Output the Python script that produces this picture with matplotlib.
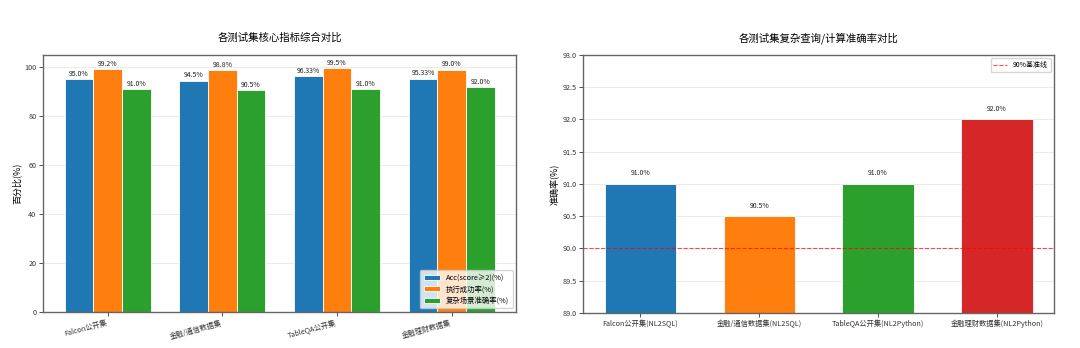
import matplotlib

matplotlib.use("Agg")
import matplotlib.pyplot as plt
import numpy as np

plt.rcParams["font.family"] = ["Noto Sans CJK SC", "DejaVu Sans"]
plt.rcParams["axes.unicode_minus"] = False

# core metrics per test set
datasets = ["Falcon公开集", "金融/通信数据集", "TableQA公开集", "金融理财数据集"]
metric_names = ["Acc(score≥2)(%)", "执行成功率(%)", "复杂场景准确率(%)"]
acc = [95.0, 94.5, 96.33, 95.33]
exec_rate = [99.2, 98.8, 99.5, 99.0]
complex_acc = [91.0, 90.5, 91.0, 92.0]

# complex query / computation accuracy
complex_labels = [
    "Falcon公开集(NL2SQL)",
    "金融/通信数据集(NL2SQL)",
    "TableQA公开集(NL2Python)",
    "金融理财数据集(NL2Python)",
]
complex_values = [91.0, 90.5, 91.0, 92.0]
baseline = 90.0

colors = ["#1f77b4", "#ff7f0e", "#2ca02c", "#d62728"]


def style_axes(ax):
    for spine in ax.spines.values():
        spine.set_color("#666666")
        spine.set_linewidth(1.0)
    ax.tick_params(labelsize=5.2, length=3, width=0.6, colors="#333333", pad=2)
    ax.grid(axis="y", alpha=0.3, linewidth=0.6)
    ax.set_axisbelow(True)


fig = plt.figure(figsize=(10.8, 3.48), dpi=100)
ax1 = fig.add_axes([0.040, 0.103, 0.438, 0.739])
ax2 = fig.add_axes([0.540, 0.101, 0.436, 0.741])

# left: grouped bars
x = np.arange(len(datasets))
width = 0.25
series = [acc, exec_rate, complex_acc]
for i, (vals, name) in enumerate(zip(series, metric_names)):
    bars = ax1.bar(x + (i - 1) * width, vals, width, label=name,
                   color=colors[i], edgecolor="white", linewidth=0.6)
    for b, v in zip(bars, vals):
        ax1.text(b.get_x() + b.get_width() / 2, v + 0.5, f"{v}%",
                 ha="center", va="bottom", fontsize=5, color="#222222")
ax1.set_ylim(0, 105)
ax1.set_xticks(x)
ax1.set_xticklabels(datasets, rotation=15, ha="right")
ax1.set_ylabel("百分比(%)", fontsize=6.5, labelpad=2)
ax1.set_title("各测试集核心指标综合对比", fontsize=7.5, pad=10)
style_axes(ax1)
ax1.legend(loc="lower right", fontsize=5.3, framealpha=0.8,
           handlelength=2.2, borderpad=0.5, labelspacing=0.45)

# right: complex accuracy bars with baseline
x2 = np.arange(len(complex_labels))
bars = ax2.bar(x2, complex_values, 0.6, color=colors,
               edgecolor="white", linewidth=0.6)
for b, v in zip(bars, complex_values):
    ax2.text(b.get_x() + b.get_width() / 2, v + 0.1, f"{v}%",
             ha="center", va="bottom", fontsize=5, color="#222222")
ax2.axhline(baseline, color="red", linestyle="--", linewidth=0.8,
            alpha=0.7, label="90%基准线")
ax2.set_ylim(89, 93)
ax2.set_xticks(x2)
ax2.set_xticklabels(complex_labels)
ax2.set_ylabel("准确率(%)", fontsize=6.5, labelpad=2)
ax2.set_title("各测试集复杂查询/计算准确率对比", fontsize=7.5, pad=10)
style_axes(ax2)
ax2.legend(loc="upper right", fontsize=5, framealpha=0.8)

fig.savefig("out.png", dpi=100)
